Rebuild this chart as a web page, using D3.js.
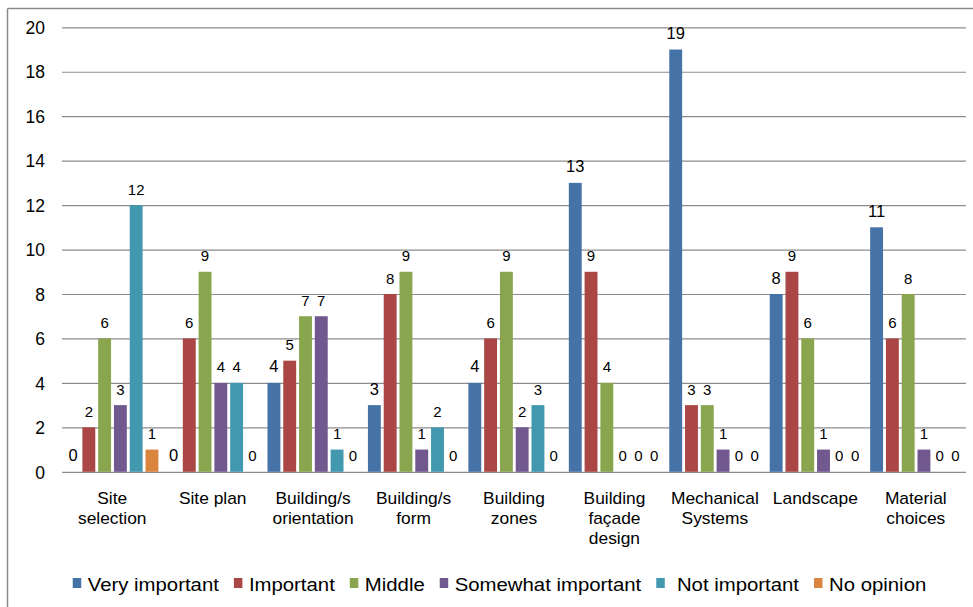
<!DOCTYPE html>
<html>
<head>
<meta charset="utf-8">
<script src="https://cdn.jsdelivr.net/npm/d3@7"></script>
<style>
  html, body { margin: 0; padding: 0; background: #fff; }
  svg { display: block; }
  text { font-family: "Liberation Sans", Arial, sans-serif; fill: #000; }
</style>
</head>
<body>
<svg id="chart" width="973" height="607"></svg>
<script>
// Survey categories (line breaks mark how each axis label wraps)
const categories = [
  "Site\nselection", "Site plan", "Building/s\norientation", "Building/s\nform",
  "Building\nzones", "Building\nfaçade\ndesign", "Mechanical\nSystems",
  "Landscape", "Material\nchoices"
];

// Response counts per category, one array per rating
const veryImportant     = [0, 0, 4, 3, 4, 13, 19, 8, 11];
const important         = [2, 6, 5, 8, 6, 9, 3, 9, 6];
const middle            = [6, 9, 7, 9, 9, 4, 3, 6, 8];
const somewhatImportant = [3, 4, 7, 1, 2, 0, 1, 1, 1];
const notImportant      = [12, 4, 1, 2, 3, 0, 0, 0, 0];
const noOpinion         = [1, 0, 0, 0, 0, 0, 0, 0, 0];

const seriesNames = ["Very important", "Important", "Middle", "Somewhat important", " Not important", "No opinion"];
const seriesValues = [veryImportant, important, middle, somewhatImportant, notImportant, noOpinion];
const seriesColors = ["#4572A7", "#AA4643", "#89A54E", "#71588F", "#4198AF", "#DB843D"];

const yTicks = [0, 2, 4, 6, 8, 10, 12, 14, 16, 18, 20];

const svg = d3.select("#chart");

// Frame lines along the top and left edge
svg.append("line").attr("x1", 7.5).attr("x2", 973).attr("y1", 8.5).attr("y2", 8.5)
  .attr("stroke", "#8a8a8a").attr("stroke-width", 1.5);
svg.append("line").attr("x1", 7.5).attr("x2", 7.5).attr("y1", 8.5).attr("y2", 607)
  .attr("stroke", "#8a8a8a").attr("stroke-width", 1.5);

const plotLeft = 62, plotRight = 966;
const y = d3.scaleLinear().domain([0, 20]).range([471.8, 27.3]);

const x0 = d3.scaleBand().domain(categories).range([plotLeft, plotRight]).padding(0);
const barStep = 15.3, barWidth = 12.5, groupOffset = 4.6;
const x1 = d3.scaleBand().domain(d3.range(seriesNames.length))
  .range([groupOffset, groupOffset + barStep * seriesNames.length])
  .paddingInner(1 - barWidth / barStep).paddingOuter(0).align(0);

// Horizontal gridlines and value axis labels
const yAxis = d3.axisLeft(y).tickValues(yTicks).tickSize(-(plotRight - plotLeft)).tickPadding(17);
const yg = svg.append("g").attr("transform", `translate(${plotLeft},0)`).call(yAxis);
yg.select(".domain").remove();
yg.selectAll(".tick line").attr("stroke", "#8c8c8c").attr("stroke-width", 1.2);
yg.selectAll(".tick text")
  .attr("font-family", "Liberation Sans, Arial, sans-serif")
  .attr("font-size", 17.5).attr("fill", "#000")
  .attr("dy", null).attr("y", 6.2);

// Bars
const groups = svg.append("g").selectAll("g")
  .data(categories)
  .join("g")
  .attr("transform", d => `translate(${x0(d)},0)`);

groups.selectAll("rect")
  .data((c, ci) => seriesValues.map((vals, si) => ({ si, v: vals[ci] })))
  .join("rect")
  .attr("x", d => x1(d.si))
  .attr("width", x1.bandwidth())
  .attr("y", d => y(d.v))
  .attr("height", d => y(0) - y(d.v))
  .attr("fill", d => seriesColors[d.si]);

// Value labels above each bar
groups.selectAll("text.val")
  .data((c, ci) => seriesValues.map((vals, si) => ({ si, v: vals[ci] })))
  .join("text")
  .attr("class", "val")
  .attr("x", d => x1(d.si) + x1.bandwidth() / 2)
  .attr("y", d => y(d.v) - 10.5)
  .attr("text-anchor", "middle")
  .attr("font-size", d => d.si === 0 ? 16.5 : 15)
  .attr("fill", "#1a1a1a")
  .text(d => d.v);

// Category labels under the axis, slightly widened
const catG = svg.append("g");
categories.forEach(c => {
  const cx = x0(c) + x0.bandwidth() / 2;
  c.split("\n").forEach((line, i) => {
    catG.append("text")
      .attr("transform", `translate(${cx},${504 + i * 20}) scale(1.1,1)`)
      .attr("text-anchor", "middle")
      .attr("font-size", 15.8)
      .text(line);
  });
});

// Legend
const legend = svg.append("g");
const legScale = 1.1, legGap = 15, itemGap = 15;
let lx = 0;
seriesNames.forEach((name, i) => {
  const g = legend.append("g");
  g.append("rect").attr("x", lx).attr("y", 578).attr("width", 8.5).attr("height", 10)
    .attr("fill", seriesColors[i]);
  const t = g.append("text")
    .attr("transform", `translate(${lx + legGap},591) scale(${legScale},1)`)
    .attr("font-size", 18.5)
    .style("white-space", "pre")
    .text(name);
  const w = t.node().getComputedTextLength() * legScale;
  lx += legGap + w + itemGap;
});
const legWidth = lx - itemGap;
legend.attr("transform", `translate(${(72 + 927) / 2 - legWidth / 2},0)`);
</script>
</body>
</html>
